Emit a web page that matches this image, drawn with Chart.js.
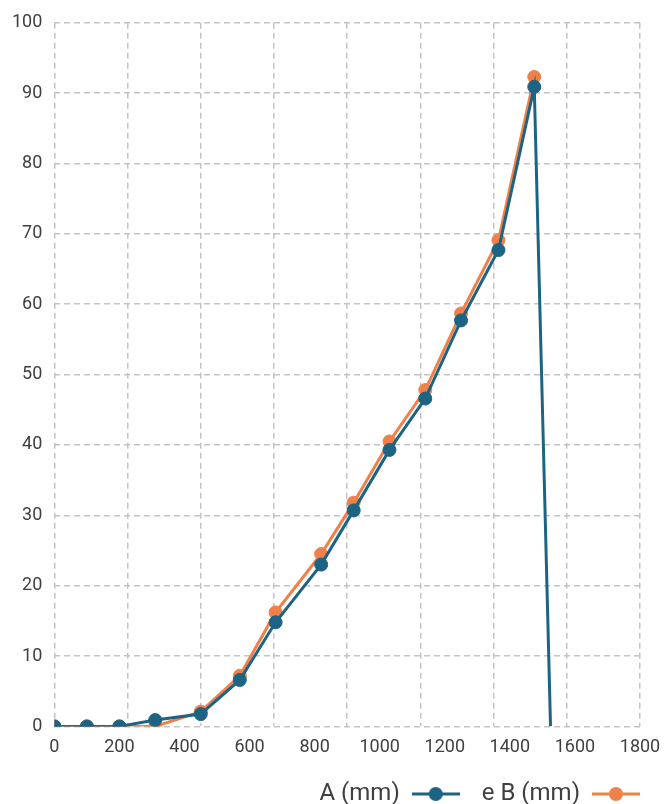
<!DOCTYPE html>
<html>
<head>
<meta charset="utf-8">
<script src="https://cdn.jsdelivr.net/npm/chart.js@4.4.1/dist/chart.umd.min.js"></script>
<style>
  html, body { margin: 0; padding: 0; background: #ffffff; }
  #wrap { width: 668px; height: 804px; }
</style>
</head>
<body>
<div id="wrap"><canvas id="chart" width="668" height="804"></canvas></div>
<script>
// dados
const seriesNames = ["A (mm)", "e B (mm)"];
const xA = [0, 100, 200, 310, 450, 570, 680, 820, 920, 1030, 1140, 1250, 1365, 1475, 1525];
const yA = [0, 0, 0, 0.9, 1.75, 6.6, 14.8, 23.0, 30.7, 39.3, 46.6, 57.7, 67.7, 90.9, 0];
const xB = [0, 100, 200, 310, 450, 570, 680, 820, 920, 1030, 1140, 1250, 1365, 1475];
const yB = [0, 0, 0, 0, 2.1, 7.2, 16.2, 24.5, 31.8, 40.5, 47.8, 58.7, 69.1, 92.3];
const xTickValues = [0, 200, 400, 600, 800, 1000, 1200, 1400, 1600, 1800];
const yTickValues = [0, 10, 20, 30, 40, 50, 60, 70, 80, 90, 100];
const gridColumns = 8; // linhas verticais da grade (não batem com os rótulos)

const teal = "#1d6383";
const orange = "#f0804a";
const gridColor = "#c4c4c4";
const textColor = "#3f3f3f";
const fontFamily = "Roboto, 'Noto Sans', sans-serif";

// símbolo da legenda: linha com bolinha
const legendSymbol = function (color) {
  const c = document.createElement("canvas");
  c.width = 48;
  c.height = 16;
  const g = c.getContext("2d");
  g.strokeStyle = color;
  g.lineWidth = 3;
  g.beginPath();
  g.moveTo(0, 8);
  g.lineTo(48, 8);
  g.stroke();
  g.fillStyle = color;
  g.beginPath();
  g.arc(24, 8, 7, 0, Math.PI * 2);
  g.fill();
  return c;
};

const toPoints = (xs, ys) => xs.map((x, i) => ({ x: x, y: ys[i] }));

const data = {
  datasets: [
    {
      label: seriesNames[0],
      data: toPoints(xA, yA),
      borderColor: teal,
      backgroundColor: teal,
      borderWidth: 3,
      pointRadius: xA.map((_, i) => (i === xA.length - 1 ? 0 : 6.5)),
      pointBorderWidth: 1,
      tension: 0,
    },
    {
      label: seriesNames[1],
      data: toPoints(xB, yB),
      borderColor: orange,
      backgroundColor: orange,
      borderWidth: 3,
      pointRadius: 6.5,
      pointBorderWidth: 1,
      tension: 0,
    },
  ],
};

const dashedGrid = {
  color: gridColor,
  lineWidth: 1.5,
  drawTicks: false,
};

const config = {
  type: "line",
  data: data,
  options: {
    responsive: false,
    animation: false,
    layout: { padding: { left: 0, right: 6, top: 12, bottom: -12 } },
    scales: {
      x: {
        type: "linear",
        position: "bottom",
        min: 0,
        max: 1800,
        afterBuildTicks: (axis) => {
          axis.ticks = xTickValues.map((v) => ({ value: v }));
        },
        grid: { display: false },
        border: { display: false },
        ticks: {
          padding: 2,
          color: textColor,
          font: { family: fontFamily, size: 18 },
          maxRotation: 0,
          autoSkip: false,
          callback: (v) => String(v),
        },
      },
      xg: {
        type: "linear",
        position: "bottom",
        min: 0,
        max: gridColumns,
        ticks: { display: false, stepSize: 1 },
        grid: dashedGrid,
        border: { display: false, dash: [6, 4] },
      },
      y: {
        type: "linear",
        min: 0,
        max: 100,
        afterBuildTicks: (axis) => {
          axis.ticks = yTickValues.map((v) => ({ value: v }));
        },
        grid: dashedGrid,
        border: { display: false, dash: [6, 4] },
        ticks: {
          padding: 12,
          color: textColor,
          font: { family: fontFamily, size: 18 },
          callback: (v) => String(v),
        },
      },
      // eixo vazio só para reservar espaço à direita
      yr: {
        type: "linear",
        position: "right",
        grid: { display: false },
        border: { display: false },
        ticks: { display: false },
        afterFit: (axis) => {
          axis.width = 22;
        },
      },
    },
    plugins: {
      tooltip: { enabled: false },
      legend: {
        position: "bottom",
        align: "start",
        rtl: true,
        labels: {
          usePointStyle: true,
          pointStyleWidth: 48,
          padding: 22,
          color: textColor,
          font: { family: fontFamily, size: 24 },
          generateLabels: (chart) =>
            chart.data.datasets
              .map((ds, i) => ({
                text: ds.label,
                pointStyle: legendSymbol(ds.borderColor),
                fillStyle: ds.borderColor,
                strokeStyle: ds.borderColor,
                lineWidth: 0,
                fontColor: textColor,
                datasetIndex: i,
                hidden: false,
              }))
              .reverse(),
        },
      },
    },
  },
};

new Chart(document.getElementById("chart"), config);
</script>
</body>
</html>
